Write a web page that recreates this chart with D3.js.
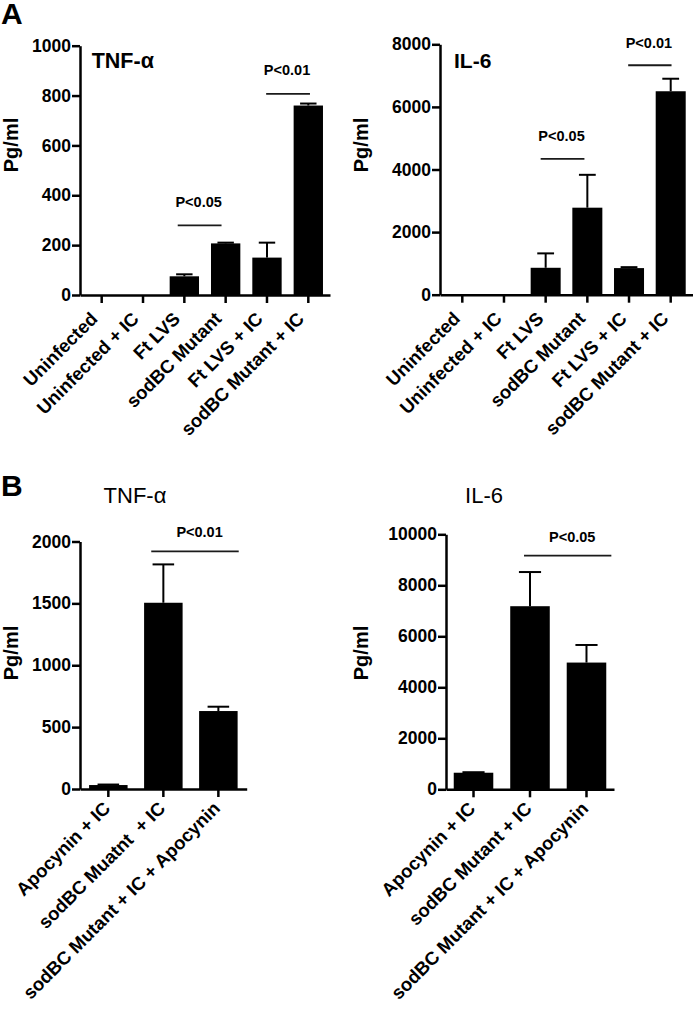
<!DOCTYPE html>
<html><head><meta charset="utf-8">
<script src="https://cdn.jsdelivr.net/npm/d3@7"></script>
<style>
body{margin:0;background:#fff;}
svg{display:block;}
</style></head><body>
<svg id="chart" width="693" height="1010"></svg>
<script>
// ---------- data ----------
const categoriesA = ["Uninfected","Uninfected + IC","Ft LVS","sodBC Mutant","Ft LVS + IC","sodBC Mutant + IC"];
const tnfA = [0,0,75,207,150,760];
const tnfAErr = [0,0,8,3,60,8];
const il6A = [0,0,860,2780,850,6500];
const il6AErr = [0,0,460,1050,30,400];

const categoriesB1 = ["Apocynin + IC","sodBC Muatnt  + IC","sodBC Mutant + IC + Apocynin"];
const categoriesB2 = ["Apocynin + IC","sodBC Mutant + IC","sodBC Mutant + IC + Apocynin"];
const tnfB = [32,1505,630];
const tnfBErr = [4,310,35];
const il6B = [650,7180,4970];
const il6BErr = [20,1340,690];

const ticksTnfA = [0,200,400,600,800,1000];
const ticksIl6A = [0,2000,4000,6000,8000];
const ticksTnfB = [0,500,1000,1500,2000];
const ticksIl6B = [0,2000,4000,6000,8000,10000];

const sigTnfA = [{a:2,b:3,level:279,label:"P<0.05"},{a:4,b:5,level:807,label:"P<0.01"}];
const sigIl6A = [{a:2,b:3,level:4340,label:"P<0.05"},{a:4,b:5,level:7330,label:"P<0.01"}];
const sigTnfB = [{a:1,b:2,level:1921,label:"P<0.01"}];
const sigIl6B = [{a:1,b:2,level:9160,label:"P<0.05"}];

// ---------- layout ----------
const FONT = "'Liberation Sans', Arial, sans-serif";
const svg = d3.select("#chart");

const panels = [
  {cats:categoriesA, vals:tnfA, errs:tnfAErr, ticks:ticksTnfA, max:1000, sig:sigTnfA, title:"TNF-α",
   x0:80, x1:330, yTop:45.7, yBot:295, pi:0.29, po:0.17, lblDx:-3, lblDy:25,
   titleX:91.7, titleY:68, titleAnchor:"start", titleWeight:"bold", titleSize:21.5,
   ylab:[11.5,145], sigGap:18.5, sigOff:[[-0.16,-0.1],[-0.02,0.04]], sigTextDx:-1},
  {cats:categoriesA, vals:il6A, errs:il6AErr, ticks:ticksIl6A, max:8000, sig:sigIl6A, title:"IL-6",
   x0:440, x1:693, yTop:44.3, yBot:294.7, pi:0.28, po:0.175, lblDx:-1, lblDy:25,
   titleX:454, titleY:68, titleAnchor:"start", titleWeight:"bold", titleSize:21,
   ylab:[362,145], sigGap:17.5, sigOff:[[-0.12,-0.07],[-0.02,0.02]], sigTextDx:-1},
  {cats:categoriesB1, vals:tnfB, errs:tnfBErr, ticks:ticksTnfB, max:2000, sig:sigTnfB, title:"TNF-α",
   x0:80, x1:246.7, yTop:541.5, yBot:789, pi:0.3, po:0.165, lblDx:3, lblDy:20.5,
   titleX:135, titleY:502.7, titleAnchor:"middle", titleWeight:"normal", titleSize:22,
   ylab:[12,653], sigGap:13.8, sigOff:[[-0.22,0.37]], sigTextDx:4.6},
  {cats:categoriesB2, vals:il6B, errs:il6BErr, ticks:ticksIl6B, max:10000, sig:sigIl6B, title:"IL-6",
   x0:446, x1:614, yTop:534.3, yBot:789.3, pi:0.3, po:0.137, lblDx:3, lblDy:20.5,
   titleX:484, titleY:502.7, titleAnchor:"middle", titleWeight:"normal", titleSize:22,
   ylab:[362,653], sigGap:14, sigOff:[[-0.106,0.44]], sigTextDx:4.6}
];

function drawPanel(p){
  const g = svg.append("g");
  const x = d3.scaleBand().domain(p.cats).range([p.x0,p.x1]).paddingInner(p.pi).paddingOuter(p.po);
  const y = d3.scaleLinear().domain([0,p.max]).range([p.yBot,p.yTop]);
  const bw = x.bandwidth();
  const rows = p.vals.map((v,i)=>({c:p.cats[i],v,e:p.errs[i]}));

  // bars
  g.selectAll("rect.bar").data(rows.filter(d=>d.v>0))
    .join("rect").attr("class","bar")
    .attr("x",d=>x(d.c)).attr("width",bw)
    .attr("y",d=>y(d.v)).attr("height",d=>y(0)-y(d.v))
    .attr("fill","#000");

  // error bars (upper only)
  const eb = rows.filter(d=>d.e>0);
  g.selectAll("line.err").data(eb).join("line").attr("class","err")
    .attr("x1",d=>x(d.c)+bw/2).attr("x2",d=>x(d.c)+bw/2)
    .attr("y1",d=>y(d.v)).attr("y2",d=>y(d.v+d.e))
    .attr("stroke","#000").attr("stroke-width",2);
  g.selectAll("line.cap").data(eb).join("line").attr("class","cap")
    .attr("x1",d=>x(d.c)+bw/2-bw*0.28).attr("x2",d=>x(d.c)+bw/2+bw*0.28)
    .attr("y1",d=>y(d.v+d.e)).attr("y2",d=>y(d.v+d.e))
    .attr("stroke","#000").attr("stroke-width",2);

  // y axis
  const ya = g.append("g").attr("transform",`translate(${p.x0},0)`)
    .call(d3.axisLeft(y).tickValues(p.ticks).tickFormat(d3.format("d")).tickSize(8).tickSizeOuter(0).tickPadding(1));
  ya.select(".domain").attr("stroke","#000").attr("stroke-width",2.5);
  ya.selectAll(".tick line").attr("stroke","#000").attr("stroke-width",2.5);
  ya.selectAll(".tick text").attr("font-family",FONT).attr("font-weight","bold").attr("font-size",17.5).attr("fill","#000");

  // x axis
  const xa = g.append("g").attr("transform",`translate(0,${y(0)})`)
    .call(d3.axisBottom(x).tickSize(8).tickSizeOuter(0));
  xa.select(".domain").attr("stroke","#000").attr("stroke-width",2.5);
  xa.selectAll(".tick line").attr("stroke","#000").attr("stroke-width",2.5);
  xa.selectAll(".tick text").attr("font-family",FONT).attr("font-weight","bold").attr("font-size",18.5).attr("fill","#000")
    .attr("y",0).attr("dy",0).attr("text-anchor","end")
    .attr("transform",`translate(${p.lblDx},${p.lblDy}) rotate(-45)`)
    .style("white-space","pre");

  // y label
  g.append("text").attr("transform",`translate(${p.ylab[0]},${p.ylab[1]}) rotate(-90)`)
    .attr("text-anchor","middle").attr("dy","0.3em")
    .attr("font-family",FONT).attr("font-weight","bold").attr("font-size",20).text("Pg/ml");

  // title
  g.append("text").attr("x",p.titleX).attr("y",p.titleY).attr("text-anchor",p.titleAnchor)
    .attr("font-family",FONT).attr("font-weight",p.titleWeight).attr("font-size",p.titleSize).text(p.title);

  // significance
  p.sig.forEach((s,i)=>{
    const st = x.step();
    const xa1 = x(p.cats[s.a])+bw/2 + p.sigOff[i][0]*st;
    const xb1 = x(p.cats[s.b])+bw/2 + p.sigOff[i][1]*st;
    const yy = y(s.level);
    g.append("line").attr("x1",xa1).attr("x2",xb1).attr("y1",yy).attr("y2",yy)
      .attr("stroke","#1a1a1a").attr("stroke-width",1.8);
    g.append("text").attr("x",(xa1+xb1)/2+p.sigTextDx).attr("y",yy-p.sigGap).attr("text-anchor","middle")
      .attr("font-family",FONT).attr("font-weight","bold").attr("font-size",14.5).text(s.label);
  });
}
panels.forEach(drawPanel);

// panel letters
svg.append("text").attr("x",1).attr("y",24).attr("font-family",FONT).attr("font-weight","bold").attr("font-size",30).text("A");
svg.append("text").attr("x",1).attr("y",495.5).attr("font-family",FONT).attr("font-weight","bold").attr("font-size",30).text("B");
</script>
</body></html>
